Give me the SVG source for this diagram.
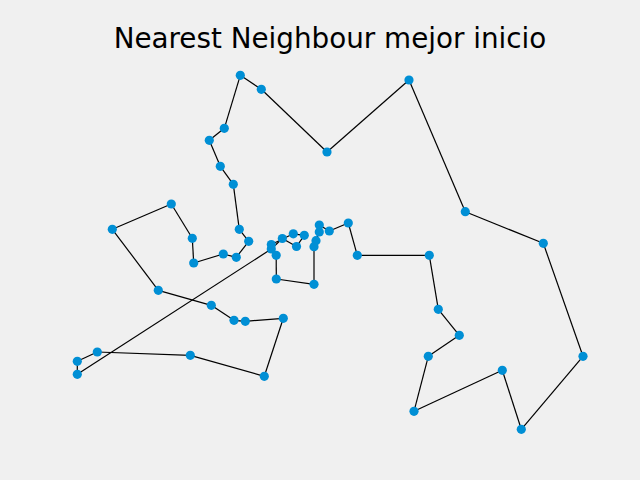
<svg xmlns="http://www.w3.org/2000/svg" width="640" height="480" viewBox="0 0 640 480">
<style>
.bg{fill:#f0f0f0}
.title{font-family:"DejaVu Sans","Liberation Sans",sans-serif;font-size:27.8px;fill:#000}
.e{stroke:#000;stroke-width:1.2;fill:none}
.n{fill:#008fd5}
</style>
<rect class="bg" x="0" y="0" width="640" height="480"/>
<text class="title" x="330" y="48" text-anchor="middle">Nearest Neighbour mejor inicio</text>
<g id="connectors">
<line class="e" x1="271.3" y1="249" x2="282.3" y2="238.5"/>
<line class="e" x1="282.3" y1="238.5" x2="296.5" y2="246.5"/>
<line class="e" x1="296.5" y1="246.5" x2="304.3" y2="235.3"/>
<line class="e" x1="304.3" y1="235.3" x2="293.3" y2="233.8"/>
<line class="e" x1="293.3" y1="233.8" x2="271.3" y2="244.5"/>
<line class="e" x1="271.3" y1="244.5" x2="276.2" y2="255.3"/>
<line class="e" x1="276.2" y1="255.3" x2="276.3" y2="279"/>
<line class="e" x1="276.3" y1="279" x2="314" y2="284.3"/>
<line class="e" x1="314" y1="284.3" x2="314" y2="246.7"/>
<line class="e" x1="314" y1="246.7" x2="316" y2="240.7"/>
<line class="e" x1="316" y1="240.7" x2="319.3" y2="232"/>
<line class="e" x1="319.3" y1="232" x2="319.3" y2="225"/>
<line class="e" x1="319.3" y1="225" x2="329.3" y2="231"/>
<line class="e" x1="329.3" y1="231" x2="348.3" y2="223"/>
<line class="e" x1="348.3" y1="223" x2="357.3" y2="255.3"/>
<line class="e" x1="357.3" y1="255.3" x2="429.3" y2="255.3"/>
<line class="e" x1="429.3" y1="255.3" x2="438.3" y2="309.3"/>
<line class="e" x1="438.3" y1="309.3" x2="459.3" y2="335.3"/>
<line class="e" x1="459.3" y1="335.3" x2="428.3" y2="356.3"/>
<line class="e" x1="428.3" y1="356.3" x2="414" y2="411.3"/>
<line class="e" x1="414" y1="411.3" x2="502.3" y2="370.3"/>
<line class="e" x1="502.3" y1="370.3" x2="521.3" y2="429.3"/>
<line class="e" x1="521.3" y1="429.3" x2="583" y2="356.3"/>
<line class="e" x1="583" y1="356.3" x2="543.3" y2="243.3"/>
<line class="e" x1="543.3" y1="243.3" x2="465.3" y2="211.7"/>
<line class="e" x1="465.3" y1="211.7" x2="409" y2="80"/>
<line class="e" x1="409" y1="80" x2="327" y2="152"/>
<line class="e" x1="327" y1="152" x2="261.3" y2="89.3"/>
<line class="e" x1="261.3" y1="89.3" x2="240.3" y2="75.3"/>
<line class="e" x1="240.3" y1="75.3" x2="224.3" y2="128.3"/>
<line class="e" x1="224.3" y1="128.3" x2="209.3" y2="140.3"/>
<line class="e" x1="209.3" y1="140.3" x2="220.3" y2="166.3"/>
<line class="e" x1="220.3" y1="166.3" x2="233.3" y2="184.3"/>
<line class="e" x1="233.3" y1="184.3" x2="239.3" y2="229.3"/>
<line class="e" x1="239.3" y1="229.3" x2="248.7" y2="241.3"/>
<line class="e" x1="248.7" y1="241.3" x2="236.3" y2="257.3"/>
<line class="e" x1="236.3" y1="257.3" x2="223.3" y2="254"/>
<line class="e" x1="223.3" y1="254" x2="193.7" y2="263"/>
<line class="e" x1="193.7" y1="263" x2="192.3" y2="238.3"/>
<line class="e" x1="192.3" y1="238.3" x2="171.3" y2="204"/>
<line class="e" x1="171.3" y1="204" x2="112.3" y2="229.3"/>
<line class="e" x1="112.3" y1="229.3" x2="158.3" y2="290.3"/>
<line class="e" x1="158.3" y1="290.3" x2="211.3" y2="305.3"/>
<line class="e" x1="211.3" y1="305.3" x2="234" y2="320.3"/>
<line class="e" x1="234" y1="320.3" x2="245.3" y2="321.3"/>
<line class="e" x1="245.3" y1="321.3" x2="283.3" y2="318.3"/>
<line class="e" x1="283.3" y1="318.3" x2="264.3" y2="376.3"/>
<line class="e" x1="264.3" y1="376.3" x2="190.3" y2="355.3"/>
<line class="e" x1="190.3" y1="355.3" x2="97.3" y2="352"/>
<line class="e" x1="97.3" y1="352" x2="77.3" y2="361.3"/>
<line class="e" x1="77.3" y1="361.3" x2="77.3" y2="374.3"/>
<line class="e" x1="77.3" y1="374.3" x2="271.3" y2="249"/>
</g>
<g id="nodes">
<g id="n1"><circle class="n" cx="271.3" cy="249" r="4.6"/></g>
<g id="n2"><circle class="n" cx="282.3" cy="238.5" r="4.6"/></g>
<g id="n3"><circle class="n" cx="296.5" cy="246.5" r="4.6"/></g>
<g id="n4"><circle class="n" cx="304.3" cy="235.3" r="4.6"/></g>
<g id="n5"><circle class="n" cx="293.3" cy="233.8" r="4.6"/></g>
<g id="n6"><circle class="n" cx="271.3" cy="244.5" r="4.6"/></g>
<g id="n7"><circle class="n" cx="276.2" cy="255.3" r="4.6"/></g>
<g id="n8"><circle class="n" cx="276.3" cy="279" r="4.6"/></g>
<g id="n9"><circle class="n" cx="314" cy="284.3" r="4.6"/></g>
<g id="n10"><circle class="n" cx="314" cy="246.7" r="4.6"/></g>
<g id="n11"><circle class="n" cx="316" cy="240.7" r="4.6"/></g>
<g id="n12"><circle class="n" cx="319.3" cy="232" r="4.6"/></g>
<g id="n13"><circle class="n" cx="319.3" cy="225" r="4.6"/></g>
<g id="n14"><circle class="n" cx="329.3" cy="231" r="4.6"/></g>
<g id="n15"><circle class="n" cx="348.3" cy="223" r="4.6"/></g>
<g id="n16"><circle class="n" cx="357.3" cy="255.3" r="4.6"/></g>
<g id="n17"><circle class="n" cx="429.3" cy="255.3" r="4.6"/></g>
<g id="n18"><circle class="n" cx="438.3" cy="309.3" r="4.6"/></g>
<g id="n19"><circle class="n" cx="459.3" cy="335.3" r="4.6"/></g>
<g id="n20"><circle class="n" cx="428.3" cy="356.3" r="4.6"/></g>
<g id="n21"><circle class="n" cx="414" cy="411.3" r="4.6"/></g>
<g id="n22"><circle class="n" cx="502.3" cy="370.3" r="4.6"/></g>
<g id="n23"><circle class="n" cx="521.3" cy="429.3" r="4.6"/></g>
<g id="n24"><circle class="n" cx="583" cy="356.3" r="4.6"/></g>
<g id="n25"><circle class="n" cx="543.3" cy="243.3" r="4.6"/></g>
<g id="n26"><circle class="n" cx="465.3" cy="211.7" r="4.6"/></g>
<g id="n27"><circle class="n" cx="409" cy="80" r="4.6"/></g>
<g id="n28"><circle class="n" cx="327" cy="152" r="4.6"/></g>
<g id="n29"><circle class="n" cx="261.3" cy="89.3" r="4.6"/></g>
<g id="n30"><circle class="n" cx="240.3" cy="75.3" r="4.6"/></g>
<g id="n31"><circle class="n" cx="224.3" cy="128.3" r="4.6"/></g>
<g id="n32"><circle class="n" cx="209.3" cy="140.3" r="4.6"/></g>
<g id="n33"><circle class="n" cx="220.3" cy="166.3" r="4.6"/></g>
<g id="n34"><circle class="n" cx="233.3" cy="184.3" r="4.6"/></g>
<g id="n35"><circle class="n" cx="239.3" cy="229.3" r="4.6"/></g>
<g id="n36"><circle class="n" cx="248.7" cy="241.3" r="4.6"/></g>
<g id="n37"><circle class="n" cx="236.3" cy="257.3" r="4.6"/></g>
<g id="n38"><circle class="n" cx="223.3" cy="254" r="4.6"/></g>
<g id="n39"><circle class="n" cx="193.7" cy="263" r="4.6"/></g>
<g id="n40"><circle class="n" cx="192.3" cy="238.3" r="4.6"/></g>
<g id="n41"><circle class="n" cx="171.3" cy="204" r="4.6"/></g>
<g id="n42"><circle class="n" cx="112.3" cy="229.3" r="4.6"/></g>
<g id="n43"><circle class="n" cx="158.3" cy="290.3" r="4.6"/></g>
<g id="n44"><circle class="n" cx="211.3" cy="305.3" r="4.6"/></g>
<g id="n45"><circle class="n" cx="234" cy="320.3" r="4.6"/></g>
<g id="n46"><circle class="n" cx="245.3" cy="321.3" r="4.6"/></g>
<g id="n47"><circle class="n" cx="283.3" cy="318.3" r="4.6"/></g>
<g id="n48"><circle class="n" cx="264.3" cy="376.3" r="4.6"/></g>
<g id="n49"><circle class="n" cx="190.3" cy="355.3" r="4.6"/></g>
<g id="n50"><circle class="n" cx="97.3" cy="352" r="4.6"/></g>
<g id="n51"><circle class="n" cx="77.3" cy="361.3" r="4.6"/></g>
<g id="n52"><circle class="n" cx="77.3" cy="374.3" r="4.6"/></g>
</g>
</svg>
